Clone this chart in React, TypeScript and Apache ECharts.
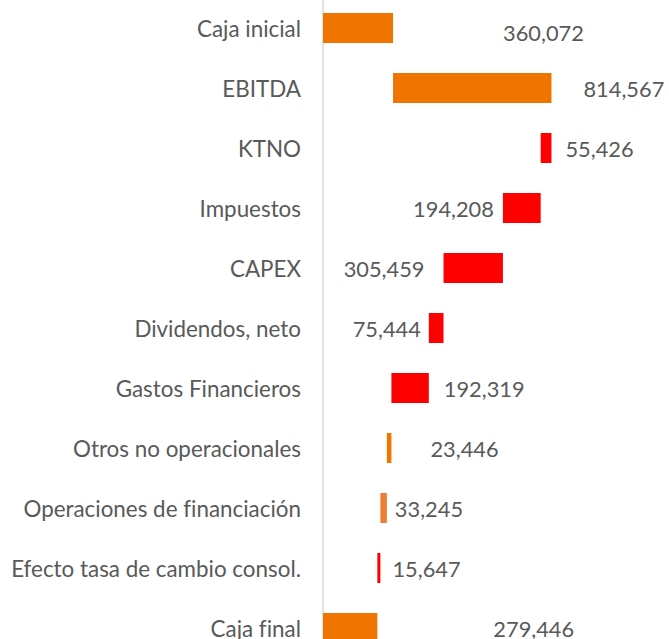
import React, { useEffect, useRef } from "react";
import * as echarts from "echarts";

const categories = [
  "Caja inicial",
  "EBITDA",
  "KTNO",
  "Impuestos",
  "CAPEX",
  "Dividendos, neto",
  "Gastos Financieros",
  "Otros no operacionales",
  "Operaciones de financiación",
  "Efecto tasa de cambio consol.",
  "Caja final",
];

const values = [360072, 814567, 55426, 194208, 305459, 75444, 192319, 23446, 33245, 15647, 279446];

// "total" starts at zero, "up" adds to the running cash, "down" subtracts
const kinds = ["total", "up", "down", "down", "down", "down", "down", "down", "down", "down", "total"];

const ORANGE = "#EF7500";
const ORANGE_LIGHT = "#ED7D31";
const RED = "#FF0000";
const barColors = [ORANGE, ORANGE, RED, RED, RED, RED, RED, ORANGE, ORANGE_LIGHT, RED, ORANGE];

// label placement (style) per bar
const labelSide = ["right", "right", "right", "left", "left", "left", "right", "right", "right", "right", "right"];
const labelGap = [110, 32, 14, 9, 19, 8, 15, 39, 8, 12, 116];
const labelShiftY = [4, 0, 0, 0, 0, 0, 0, 0, 0, 0, 0];

function buildWaterfall() {
  const bases: number[] = [];
  let running = 0;
  values.forEach((v, i) => {
    const k = kinds[i];
    if (k === "total") {
      bases.push(0);
      running = v;
    } else if (k === "up") {
      bases.push(running);
      running += v;
    } else {
      running -= v;
      bases.push(running);
    }
  });
  return bases;
}

const fmt = (n: number) => n.toLocaleString("en-US");

export default function App() {
  const ref = useRef<HTMLDivElement>(null);

  useEffect(() => {
    if (!ref.current) return;
    const chart = echarts.init(ref.current, null, { renderer: "svg" });
    const bases = buildWaterfall();
    const font = "Lato";
    chart.setOption({
      animation: false,
      backgroundColor: "#FFFFFF",
      grid: { left: 323, right: 73.7, top: 0, bottom: 0, containLabel: false },
      xAxis: {
        type: "value",
        min: 0,
        max: 1400000,
        show: false,
      },
      yAxis: {
        type: "category",
        inverse: true,
        data: categories,
        axisLine: { show: true, lineStyle: { color: "#D9D9D9", width: 1.5 } },
        axisTick: { show: false },
        axisLabel: {
          color: "#595959",
          fontFamily: font,
          fontSize: 22.4,
          margin: 22,
        },
        splitLine: { show: false },
      },
      series: [
        {
          type: "bar",
          stack: "wf",
          barWidth: 30,
          silent: true,
          itemStyle: { color: "transparent" },
          data: bases,
        },
        {
          type: "bar",
          stack: "wf",
          barWidth: 30,
          data: values.map((v, i) => ({
            value: v,
            itemStyle: { color: barColors[i] },
            label: {
              show: true,
              position: labelSide[i],
              distance: labelGap[i],
              offset: [0, labelShiftY[i]],
              formatter: fmt(v),
              color: "#595959",
              fontFamily: font,
              fontSize: 21.8,
            },
          })),
        },
      ],
    });
    return () => chart.dispose();
  }, []);

  return (
    <div
      ref={ref}
      style={{
        position: "fixed",
        left: 0,
        top: -2,
        width: 669,
        height: 660,
        fontVariantLigatures: "none",
      }}
    />
  );
}
